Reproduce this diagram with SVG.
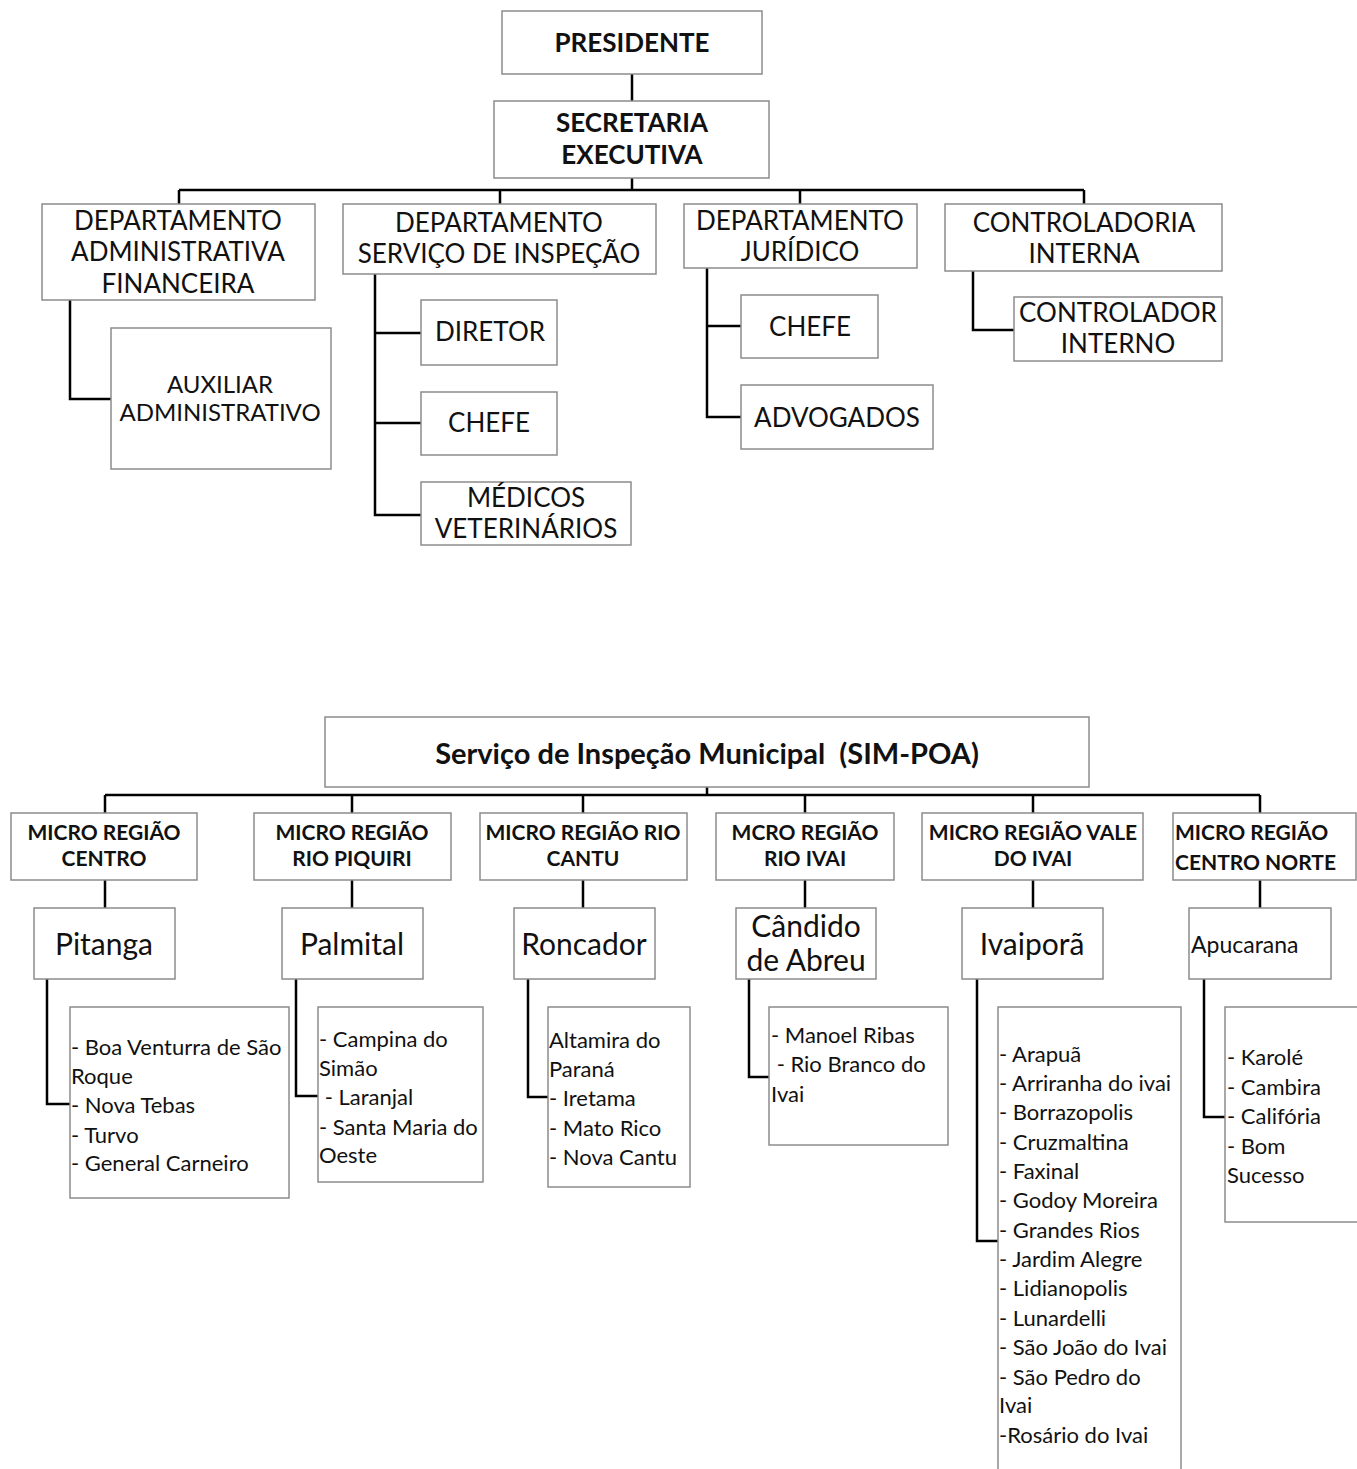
<svg xmlns="http://www.w3.org/2000/svg" width="1357" height="1469" viewBox="0 0 1357 1469">
<style>
rect.b{fill:#fff;stroke:#8c8c8c;stroke-width:1.5}
.c{fill:none;stroke:#000;stroke-width:2.5}
text{font-family:Lato,"Liberation Sans",sans-serif;fill:#111;dominant-baseline:central}
.t{font-size:26px;text-anchor:middle}
.tb{font-size:26px;font-weight:bold;text-anchor:middle}
.m{font-size:21px;font-weight:bold;text-anchor:middle}
.city{font-size:30px;text-anchor:middle}
.l{font-size:22px}
</style>
<rect width="1357" height="1469" fill="#fff"/>
<g id="connectors">
<path class="c" d="M632 74V101M632 178V190M179 190H1084M179 190V204M500 190V204M800 190V204M1084 190V204"/>
<path class="c" d="M70 300V399H111"/>
<path class="c" d="M375 274V515H421M375 333H421M375 423H421"/>
<path class="c" d="M707 268V417H741M707 326H741"/>
<path class="c" d="M973 271V330H1014"/>
<path class="c" d="M707 787V795M105 795H1260M105 795V813M352 795V813M583 795V813M805 795V813M1033 795V813M1260 795V813"/>
<path class="c" d="M105 880V908M352 880V908M583 880V908M805 880V908M1033 880V908M1260 880V908"/>
<path class="c" d="M47 979V1104H70M296 979V1096H318M528 979V1097H548M749 979V1077H769M977 979V1241H998M1204 979V1117H1225"/>
</g>
<g id="presidente"><rect class="b" x="502" y="11" width="260" height="63"/><text class="tb" x="632" y="42">PRESIDENTE</text></g>
<g id="secretaria"><rect class="b" x="494" y="101" width="275" height="77"/><text class="tb" x="632" y="122">SECRETARIA</text><text class="tb" x="632" y="154">EXECUTIVA</text></g>
<g id="dep-admin"><rect class="b" x="42" y="204" width="273" height="96"/><text class="t" x="178" y="220">DEPARTAMENTO</text><text class="t" x="178" y="251">ADMINISTRATIVA</text><text class="t" x="178" y="283">FINANCEIRA</text></g>
<g id="dep-servico"><rect class="b" x="343" y="204" width="313" height="70"/><text class="t" x="499" y="222">DEPARTAMENTO</text><text class="t" x="499" y="253">SERVIÇO DE INSPEÇÃO</text></g>
<g id="dep-juridico"><rect class="b" x="684" y="204" width="233" height="64"/><text class="t" x="800" y="220">DEPARTAMENTO</text><text class="t" x="800" y="251">JURÍDICO</text></g>
<g id="controladoria"><rect class="b" x="945" y="204" width="277" height="67"/><text class="t" x="1084" y="222">CONTROLADORIA</text><text class="t" x="1084" y="253">INTERNA</text></g>
<g id="auxiliar"><rect class="b" x="111" y="328" width="220" height="141"/><text class="t" x="220" y="383" style="font-size:24px">AUXILIAR</text><text class="t" x="220" y="411" style="font-size:24px">ADMINISTRATIVO</text></g>
<g id="diretor"><rect class="b" x="421" y="300" width="136" height="65"/><text class="t" x="490" y="331">DIRETOR</text></g>
<g id="chefe-sim"><rect class="b" x="421" y="392" width="136" height="63"/><text class="t" x="489" y="422">CHEFE</text></g>
<g id="medicos"><rect class="b" x="421" y="482" width="210" height="63"/><text class="t" x="526" y="497">MÉDICOS</text><text class="t" x="526" y="528">VETERINÁRIOS</text></g>
<g id="chefe-jur"><rect class="b" x="741" y="295" width="137" height="63"/><text class="t" x="810" y="326">CHEFE</text></g>
<g id="advogados"><rect class="b" x="741" y="385" width="192" height="64"/><text class="t" x="837" y="417">ADVOGADOS</text></g>
<g id="controlador"><rect class="b" x="1014" y="297" width="208" height="64"/><text class="t" x="1118" y="312">CONTROLADOR</text><text class="t" x="1118" y="343">INTERNO</text></g>
<g id="sim-poa"><rect class="b" x="325" y="717" width="764" height="70"/><text class="tb" x="707" y="752" style="font-size:29px" xml:space="preserve">Serviço de Inspeção Municipal  (SIM-POA)</text></g>
<g id="mr-centro"><rect class="b" x="11" y="813" width="186" height="67"/><text class="m" x="104" y="831">MICRO REGIÃO</text><text class="m" x="104" y="857">CENTRO</text></g>
<g id="mr-piquiri"><rect class="b" x="254" y="813" width="197" height="67"/><text class="m" x="352" y="831">MICRO REGIÃO</text><text class="m" x="352" y="857">RIO PIQUIRI</text></g>
<g id="mr-cantu"><rect class="b" x="480" y="813" width="207" height="67"/><text class="m" x="583" y="831">MICRO REGIÃO RIO</text><text class="m" x="583" y="857">CANTU</text></g>
<g id="mr-ivai"><rect class="b" x="716" y="813" width="178" height="67"/><text class="m" x="805" y="831">MCRO REGIÃO</text><text class="m" x="805" y="857">RIO IVAI</text></g>
<g id="mr-vale"><rect class="b" x="922" y="813" width="221" height="67"/><text class="m" x="1033" y="831">MICRO REGIÃO VALE</text><text class="m" x="1033" y="857">DO IVAI</text></g>
<g id="mr-norte"><rect class="b" x="1173" y="813" width="183" height="67"/><text class="m" x="1175" y="831" style="text-anchor:start">MICRO REGIÃO</text><text class="m" x="1175" y="861" style="text-anchor:start">CENTRO NORTE</text></g>
<g id="pitanga"><rect class="b" x="34" y="908" width="141" height="71"/><text class="city" x="104" y="943">Pitanga</text></g>
<g id="palmital"><rect class="b" x="282" y="908" width="141" height="71"/><text class="city" x="352" y="943">Palmital</text></g>
<g id="roncador"><rect class="b" x="514" y="908" width="141" height="71"/><text class="city" x="584" y="943">Roncador</text></g>
<g id="candido"><rect class="b" x="736" y="908" width="140" height="71"/><text class="city" x="806" y="925">Cândido</text><text class="city" x="806" y="959">de Abreu</text></g>
<g id="ivaipora"><rect class="b" x="962" y="908" width="141" height="71"/><text class="city" x="1032" y="943">Ivaiporã</text></g>
<g id="apucarana"><rect class="b" x="1189" y="908" width="142" height="71"/><text class="l" x="1191" y="944" style="font-size:23px">Apucarana</text></g>
<g id="lista-pitanga"><rect class="b" x="70" y="1007" width="219" height="191"/>
<text class="l" x="71" y="1046">- Boa Venturra de São</text><text class="l" x="71" y="1075">Roque</text><text class="l" x="71" y="1104">- Nova Tebas</text><text class="l" x="71" y="1134">- Turvo</text><text class="l" x="71" y="1162">- General Carneiro</text></g>
<g id="lista-palmital"><rect class="b" x="318" y="1007" width="165" height="175"/>
<text class="l" x="319" y="1038">- Campina do</text><text class="l" x="319" y="1067">Simão</text><text class="l" x="319" y="1096" xml:space="preserve"> - Laranjal</text><text class="l" x="319" y="1126">- Santa Maria do</text><text class="l" x="319" y="1154">Oeste</text></g>
<g id="lista-roncador"><rect class="b" x="548" y="1007" width="142" height="180"/>
<text class="l" x="549" y="1039">Altamira do</text><text class="l" x="549" y="1068">Paraná</text><text class="l" x="549" y="1097">- Iretama</text><text class="l" x="549" y="1127">- Mato Rico</text><text class="l" x="549" y="1156">- Nova Cantu</text></g>
<g id="lista-candido"><rect class="b" x="769" y="1007" width="179" height="138"/>
<text class="l" x="771" y="1034">- Manoel Ribas</text><text class="l" x="771" y="1063" xml:space="preserve"> - Rio Branco do</text><text class="l" x="771" y="1093">Ivai</text></g>
<g id="lista-ivaipora"><rect class="b" x="998" y="1007" width="183" height="480"/>
<text class="l" x="999" y="1053">- Arapuã</text><text class="l" x="999" y="1082">- Arriranha do ivai</text><text class="l" x="999" y="1111">- Borrazopolis</text><text class="l" x="999" y="1141">- Cruzmaltina</text><text class="l" x="999" y="1170">- Faxinal</text><text class="l" x="999" y="1199">- Godoy Moreira</text><text class="l" x="999" y="1229">- Grandes Rios</text><text class="l" x="999" y="1258">- Jardim Alegre</text><text class="l" x="999" y="1287">- Lidianopolis</text><text class="l" x="999" y="1317">- Lunardelli</text><text class="l" x="999" y="1346">- São João do Ivai</text><text class="l" x="999" y="1376">- São Pedro do</text><text class="l" x="999" y="1404">Ivai</text><text class="l" x="999" y="1434">-Rosário do Ivai</text></g>
<g id="lista-apucarana"><rect class="b" x="1225" y="1007" width="140" height="215"/>
<text class="l" x="1227" y="1056">- Karolé</text><text class="l" x="1227" y="1086">- Cambira</text><text class="l" x="1227" y="1115">- Califória</text><text class="l" x="1227" y="1145">- Bom</text><text class="l" x="1227" y="1174">Sucesso</text></g>
</svg>
